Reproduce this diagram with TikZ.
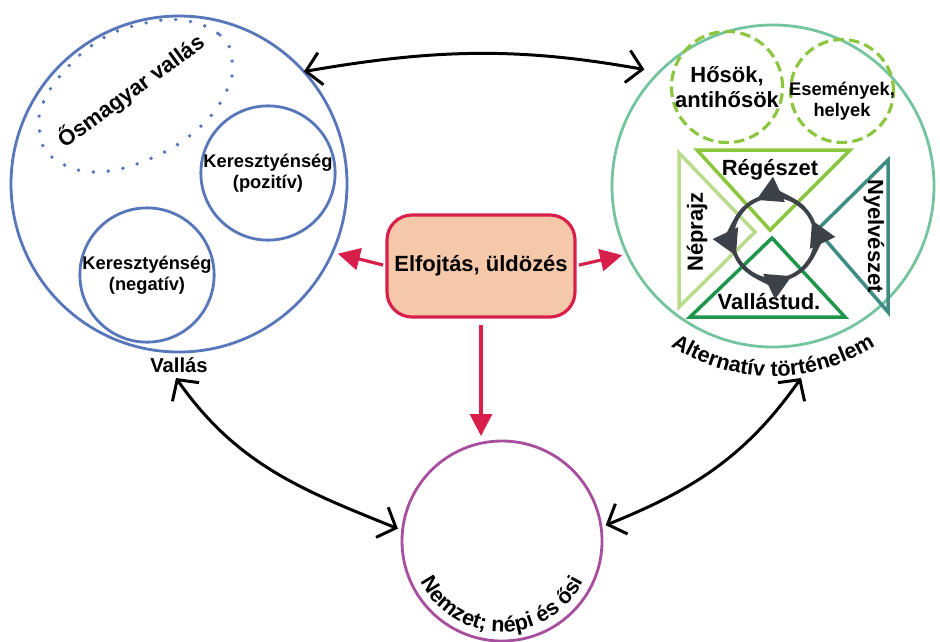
\documentclass[tikz,border=0pt]{standalone}
\usepackage{fontspec}
\setmainfont{Liberation Sans}
\usetikzlibrary{arrows.meta,decorations.text}
\definecolor{vallasblue}{RGB}{88,118,186}
\definecolor{altgreen}{RGB}{116,196,160}
\definecolor{nemzetpurple}{RGB}{168,78,158}
\definecolor{elnyomred}{RGB}{216,30,75}
\definecolor{elnyomfill}{RGB}{244,200,168}
\definecolor{regeszgreen}{RGB}{140,198,63}
\definecolor{neprajzgreen}{RGB}{184,220,140}
\definecolor{nyelvteal}{RGB}{62,140,130}
\definecolor{vallastudgreen}{RGB}{32,150,76}
\definecolor{cyclegray}{RGB}{60,66,71}

\begin{document}
\begin{tikzpicture}[x=0.2mm,y=0.2mm,
	every node/.style={inner sep=0pt,outer sep=0pt,align=center},
	ring/.style={circle,line width=1.6pt},
	dashring/.style={circle,draw=regeszgreen,line width=1.8pt,dash pattern=on 6pt off 3pt},
	twoway/.style={line width=1.7pt,{Straight Barb[length=3mm,width=6.5mm]}-{Straight Barb[length=3mm,width=6.5mm]}},
	redarrow/.style={elnyomred,line width=1.8pt,-{Triangle[length=4.4mm,width=4.4mm]}},
	tri/.style={line width=2pt,line join=miter},
	cyc/.style={cyclegray,line width=2.2pt},
	bigtext/.style={font=\bfseries\fontsize{12.5}{14}\selectfont},
	smalltext/.style={font=\bfseries\fontsize{10.4}{12}\selectfont},
	curvetext/.style={decorate,decoration={text along path,text align=center,text={|\bfseries\fontsize{12.3}{14}\selectfont|#1}}}]
	\useasboundingbox (0,0) rectangle (940,-641);

	\node[ring,draw=vallasblue,minimum size=67.2mm] (vallas) at (179,-184) {};
	\node[ring,draw=vallasblue,minimum size=26.8mm,smalltext] (pozitiv) at (268,-173) {Keresztyénség\\(pozitív)};
	\node[ring,draw=vallasblue,minimum size=26.8mm,smalltext] (negativ) at (147,-275) {Keresztyénség\\(negatív)};
	\draw[vallasblue,line width=2.2pt,line cap=round,dash pattern=on 0pt off 8.5pt] plot[smooth cycle,tension=0.7] coordinates {(182,-20) (220,-35) (232,-60) (227,-90) (200,-127) (152,-158) (95,-172) (53,-158) (40,-133) (43,-103) (67,-68) (100,-40) (137,-25)};
	\node[bigtext,rotate=36] (osmagyar) at (131,-91) {Ősmagyar vallás};
	\node[font=\bfseries\fontsize{11.5}{14}\selectfont] (vallaslbl) at (179,-365) {Vallás};

	\node[ring,draw=altgreen,minimum size=64.4mm] (alt) at (773,-186) {};
	\node[dashring,minimum size=22mm,bigtext] (hosok) at (727,-87) {Hősök,\\antihősök};
	\node[dashring,minimum size=20.6mm] (esemenyek) at (842,-91) {};
	\node[smalltext] (esemenyektxt) at (842,-101) {Események,\\helyek};
	\draw[tri,regeszgreen] (697,-150) -- (850,-150) -- (770,-230) -- cycle;
	\draw[tri,neprajzgreen] (679,-153) -- (755,-232) -- (679,-307) -- cycle;
	\draw[tri,nyelvteal] (888,-160) -- (817,-230) -- (888,-312) -- cycle;
	\draw[tri,vallastudgreen] (690,-317) -- (772,-238) -- (845,-317) -- cycle;
	\node[bigtext] (regeszet) at (770,-170) {Régészet};
	\node[bigtext,rotate=90] (neprajz) at (697,-232) {Néprajz};
	\node[bigtext,rotate=-90] (nyelveszet) at (874,-236) {Nyelvészet};
	\node[bigtext] (vallastud) at (769,-302) {Vallástud.};
	\coordinate (korfo) at (774,-238);
	\draw[cyc] (korfo) circle[radius=42];
	\foreach \a in {25,115,205,295}
		\draw[cyc,-{Triangle[length=5mm,width=5.4mm]}] ([shift={(\a-70:42)}]korfo) arc[start angle=\a-70,end angle=\a,radius=42];
	\path[curvetext={Alternatív történelem}] ([shift={(215:190)}]alt.center) arc[start angle=215,end angle=325,radius=190];

	\node[ring,draw=nemzetpurple,minimum size=40mm] (nemzet) at (502,-541) {};
	\path[curvetext={Nemzet; népi és ősi}] ([shift={(200:91)}]nemzet.center) arc[start angle=200,end angle=340,radius=91];

	\node[draw=elnyomred,fill=elnyomfill,line width=1.8pt,rounded corners=5mm,minimum width=37.6mm,minimum height=20.4mm,bigtext] (elfojtas) at (481,-266) {Elfojtás, üldözés};
	\draw[redarrow,shorten <=0.8mm,shorten >=1.1mm] (elfojtas.west) -- (vallas.-24);
	\draw[redarrow,shorten <=0.8mm,shorten >=1mm] (elfojtas.east) -- (alt.205);
	\draw[redarrow,shorten <=1.6mm,shorten >=1mm] (elfojtas.south) -- (elfojtas.south |- nemzet.north);

	\coordinate (vallasvege) at (176,-378);
	\coordinate (altvege) at (801,-378);
	\draw[twoway,shorten >=3mm] (vallas.42) to[bend left=10] (alt.135);
	\draw[twoway,shorten >=1mm] (vallasvege) to[out=-55,in=158] (nemzet.174);
	\draw[twoway,shorten >=1mm] (altvege) to[out=-125,in=22] (nemzet.8);
\end{tikzpicture}
\end{document}
